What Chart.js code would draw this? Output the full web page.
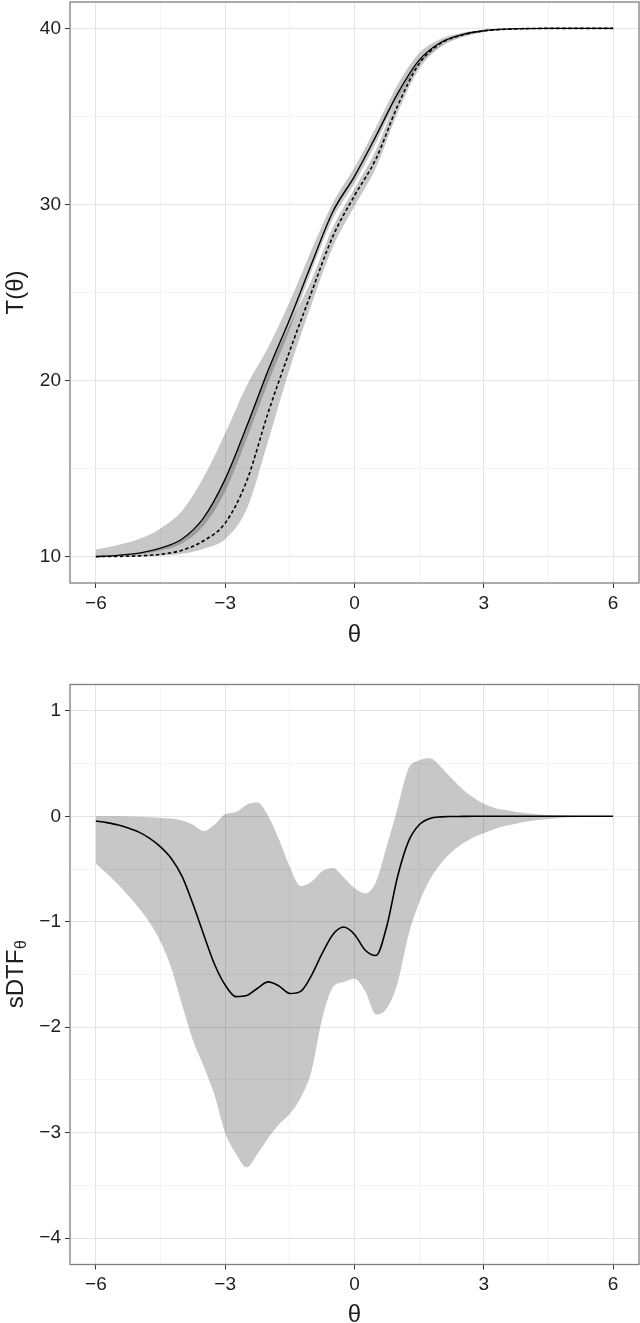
<!DOCTYPE html>
<html>
<head>
<meta charset="utf-8">
<script src="https://cdn.jsdelivr.net/npm/chart.js@4.4.1/dist/chart.umd.min.js"></script>
<style>
  body{margin:0;background:#fff;overflow:hidden}
  #wrap{position:relative;width:640px;height:1323px}
  canvas{position:absolute;left:0}
</style>
</head>
<body>
<div id="wrap">
  <canvas id="topChart" width="640" height="660" style="top:0"></canvas>
  <canvas id="botChart" width="640" height="690" style="top:660px"></canvas>
</div>
<script>
/* ---- 위 패널: T(θ), 두 집단 곡선 + 신뢰대 ---- */
const thetaTop = [-6,-5.5,-5,-4.5,-4,-3.5,-3,-2.5,-2,-1.5,-1,-0.5,0,0.5,1,1.5,2,2.5,3,3.5,4,4.5,5,5.5,6];
const tSolid   = [10.0,10.07,10.2,10.48,11.0,12.2,14.4,17.4,20.6,23.5,26.6,29.6,31.6,33.9,36.3,38.2,39.2,39.65,39.87,39.96,39.99,40,40,40,40];
const tDashed  = [10.0,10.01,10.04,10.13,10.36,10.9,11.9,14.3,18.2,21.7,25.0,28.2,30.5,32.6,35.6,38.0,39.15,39.62,39.86,39.95,39.99,40,40,40,40];
const solidHi  = [10.4,10.65,11.0,11.6,12.6,14.5,17.0,19.7,21.9,24.5,27.4,30.1,32.1,34.4,36.8,38.6,39.4,39.75,39.92,39.97,40,40,40,40,40];
const solidLo  = [10.0,10.04,10.13,10.35,10.75,11.75,13.7,16.7,19.9,22.9,26.2,29.2,31.2,33.5,36.0,37.95,39.0,39.55,39.82,39.94,39.99,40,40,40,40];
const dashedHi = [10.0,10.06,10.18,10.44,10.95,12.1,14.3,17.3,20.5,23.2,25.7,28.7,30.9,33.1,36.1,38.1,39.05,39.57,39.83,39.94,39.99,40,40,40,40];
const dashedLo = [10.0,10.0,10.01,10.05,10.16,10.45,11.0,12.7,16.6,20.7,24.3,27.6,29.9,32.1,35.2,37.7,38.95,39.5,39.8,39.93,39.99,40,40,40,40];
const yTicksTop = [10,15,20,25,30,35,40];

/* ---- 아래 패널: sDTF_θ + 신뢰대 ---- */
const thetaBot = [-6,-5.75,-5.5,-5.25,-5,-4.75,-4.5,-4.25,-4,-3.75,-3.5,-3.25,-3,-2.75,-2.5,-2.25,-2,-1.75,-1.5,-1.25,-1,-0.75,-0.5,-0.25,0,0.25,0.5,0.75,1,1.25,1.5,1.75,2,2.25,2.5,2.75,3,3.25,3.5,3.75,4,4.25,4.5,4.75,5,5.25,5.5,5.75,6];
const sdtf   = [-0.045,-0.06,-0.08,-0.11,-0.15,-0.21,-0.29,-0.40,-0.57,-0.83,-1.12,-1.40,-1.60,-1.71,-1.70,-1.63,-1.57,-1.61,-1.68,-1.66,-1.51,-1.30,-1.12,-1.05,-1.12,-1.27,-1.32,-1.04,-0.57,-0.24,-0.08,-0.02,-0.005,-0.002,-0.001,0,0,0,0,0,0,0,0,0,0,0,0,0,0];
const sdtfHi = [0,0,0,-0.002,-0.005,-0.01,-0.015,-0.02,-0.04,-0.08,-0.14,-0.08,0.02,0.04,0.11,0.13,0.0,-0.22,-0.48,-0.66,-0.62,-0.52,-0.49,-0.58,-0.68,-0.73,-0.62,-0.28,0.08,0.45,0.53,0.55,0.47,0.36,0.26,0.18,0.12,0.08,0.06,0.04,0.03,0.02,0.012,0.008,0.005,0.003,0.002,0.001,0];
const sdtfLo = [-0.45,-0.54,-0.64,-0.75,-0.87,-1.01,-1.19,-1.44,-1.79,-2.12,-2.37,-2.64,-3.0,-3.2,-3.33,-3.2,-3.05,-2.92,-2.82,-2.67,-2.42,-1.92,-1.62,-1.57,-1.54,-1.66,-1.88,-1.82,-1.58,-1.13,-0.82,-0.6,-0.45,-0.34,-0.26,-0.2,-0.16,-0.12,-0.09,-0.07,-0.05,-0.035,-0.025,-0.017,-0.01,-0.007,-0.004,-0.002,0];
const yTicksBot = [-4,-3.5,-3,-2.5,-2,-1.5,-1,-0.5,0,0.5,1];

const xTicks = [-6,-4.5,-3,-1.5,0,1.5,3,4.5,6];

const MAJOR = '#e4e4e4', MINOR = '#f3f3f3', TICK = '#333', BORDER = '#7f7f7f', TXT = '#1e1e1e';
const BAND = 'rgba(0,0,0,0.22)';
const FONT = "'Liberation Sans', Arial, sans-serif";
Chart.defaults.font.family = FONT;

const fmt = v => v < 0 ? '\u2212' + Math.abs(v) : String(v);
const pts = (xs, ys) => xs.map((x,i)=>({x, y: ys[i]}));

const panelBorder = {
  id:'panelBorder',
  afterDraw(chart){
    const {ctx, chartArea:a} = chart;
    ctx.save();
    ctx.strokeStyle = BORDER; ctx.lineWidth = 1.3;
    ctx.strokeRect(a.left, a.top, a.right-a.left, a.bottom-a.top);
    ctx.restore();
  }
};

// sDTF 뒤에 아래첨자 θ — 축 제목을 직접 그림
const subTitle = {
  id:'subTitle',
  afterDraw(chart){
    if(chart.canvas.id !== 'botChart') return;
    const ctx = chart.ctx;
    const a = chart.chartArea;
    ctx.save();
    ctx.translate(16, (a.top+a.bottom)/2);
    ctx.rotate(-Math.PI/2);
    ctx.fillStyle = TXT;
    ctx.textBaseline = 'middle';
    ctx.font = "24px " + FONT;
    const w1 = ctx.measureText('sDTF').width;
    ctx.font = "16px " + FONT;
    const w2 = ctx.measureText('θ').width;
    const x0 = -(w1+w2)/2;
    ctx.font = "24px " + FONT;
    ctx.fillText('sDTF', x0, 0);
    ctx.font = "16px " + FONT;
    ctx.fillText('θ', x0+w1+0.5, 6);
    ctx.restore();
  }
};

function xAxis(height, titlePad){
  return {
    type:'linear', min:-6.6, max:6.6,
    afterBuildTicks: s => { s.ticks = xTicks.map(v=>({value:v})); },
    afterFit: s => { s.height = height; s.paddingLeft = 0; s.paddingRight = 0; },
    ticks:{autoSkip:false, maxRotation:0, padding:4, color:TXT, font:{size:19},
      callback: v => v % 3 === 0 ? fmt(v) : ''},
    grid:{color: c => (c.tick && c.tick.value % 3 === 0) ? MAJOR : MINOR,
      tickColor: c => (c.tick && c.tick.value % 3 === 0) ? TICK : 'rgba(0,0,0,0)',
      tickLength:5, lineWidth:1},
    border:{display:false},
    title:{display:true, text:'θ', color:TXT, font:{size:24}, padding:{top:0, bottom:titlePad}}
  };
}

function yAxis(min, max, ticks, isMajor, title){
  return {
    type:'linear', min, max,
    afterBuildTicks: s => { s.ticks = ticks.map(v=>({value:v})); },
    afterFit: s => { s.width = 70; s.paddingTop = 0; s.paddingBottom = 0; },
    ticks:{autoSkip:false, padding:4, color:TXT, font:{size:19},
      callback: v => isMajor(v) ? fmt(v) : ''},
    grid:{color: c => (c.tick && isMajor(c.tick.value)) ? MAJOR : MINOR,
      tickColor: c => (c.tick && isMajor(c.tick.value)) ? TICK : 'rgba(0,0,0,0)',
      tickLength:5, lineWidth:1},
    border:{display:false},
    title:{display:!!title, text:title||'', color:TXT, font:{size:24}, padding:{top:2, bottom:0}}
  };
}

const lineDs = (data, extra) => Object.assign({data, borderColor:'#000', borderWidth:1.4,
  pointRadius:0, fill:false, cubicInterpolationMode:'monotone'}, extra);
const bandHi = data => ({data, borderWidth:0, borderColor:'rgba(0,0,0,0)', backgroundColor:BAND,
  pointRadius:0, fill:'+1', cubicInterpolationMode:'monotone'});
const bandLo = data => ({data, borderWidth:0, borderColor:'rgba(0,0,0,0)',
  pointRadius:0, fill:false, cubicInterpolationMode:'monotone'});

const common = {
  responsive:false, animation:false, devicePixelRatio:1,
  plugins:{legend:{display:false}, tooltip:{enabled:false}},
};

new Chart(document.getElementById('topChart'), {
  type:'line',
  data:{datasets:[
    lineDs(pts(thetaTop, tSolid)),
    lineDs(pts(thetaTop, tDashed), {borderDash:[3.5,2.5], borderWidth:1.6}),
    bandHi(pts(thetaTop, solidHi)),
    bandLo(pts(thetaTop, solidLo)),
    bandHi(pts(thetaTop, dashedHi)),
    bandLo(pts(thetaTop, dashedLo)),
  ]},
  options:Object.assign({}, common, {
    layout:{padding:{top:2, right:1, left:0, bottom:0}},
    scales:{
      x: xAxis(77, 10.5),
      y: yAxis(8.5, 41.5, yTicksTop, v => v % 10 === 0, 'T(θ)'),
    }
  }),
  plugins:[panelBorder]
});

new Chart(document.getElementById('botChart'), {
  type:'line',
  data:{datasets:[
    lineDs(pts(thetaBot, sdtf), {borderWidth:1.6}),
    bandHi(pts(thetaBot, sdtfHi)),
    bandLo(pts(thetaBot, sdtfLo)),
  ]},
  options:Object.assign({}, common, {
    layout:{padding:{top:24.5, right:1, left:0, bottom:0}},
    scales:{
      x: xAxis(85.5, 20.5),
      y: yAxis(-4.25, 1.25, yTicksBot, v => Number.isInteger(v), ''),
    }
  }),
  plugins:[panelBorder, subTitle]
});
</script>
</body>
</html>
